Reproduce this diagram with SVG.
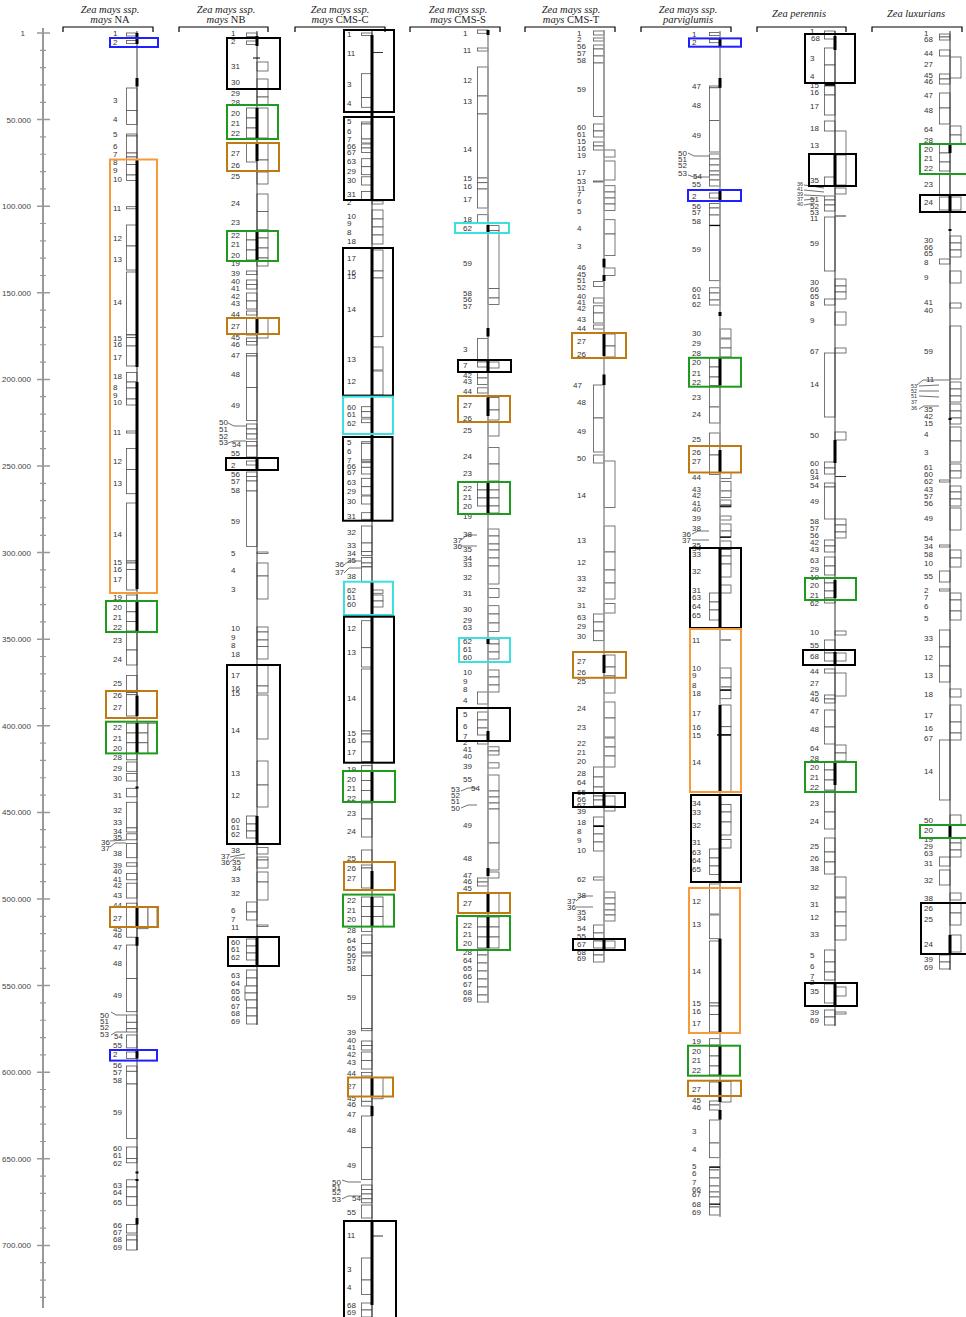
<svg xmlns="http://www.w3.org/2000/svg" width="966" height="1317" viewBox="0 0 966 1317">
<style>
text{font-family:"Liberation Sans",Arial,sans-serif;font-size:8px;fill:#333}
.ttl{font-family:"Liberation Serif","Times New Roman",serif;font-style:italic;font-size:10.5px;fill:#222;text-anchor:middle}
.ax{fill:#444;text-anchor:end}
.sm{font-size:5.5px}
.bx rect{fill:#fff;stroke:#555;stroke-width:0.8}
.tk rect{fill:#000}
.ld{fill:none;stroke:#333;stroke-width:0.7}
.hl rect{fill:none;stroke-width:2}
.bl{stroke:#1f1fff}.og{stroke:#f79a3a}.br{stroke:#c07a14}.gr{stroke:#1e9a1e}.cy{stroke:#3ce0e0}.bk{stroke:#000}
.ln{stroke:#333;stroke-width:1}
.lg{stroke:#999;stroke-width:1.6}
.brk{fill:none;stroke:#000;stroke-width:1.2}
</style>

<g id="axis">
<line x1="43" y1="28" x2="43" y2="1308" stroke="#999" stroke-width="2"/>
<path stroke="#999" stroke-width="1.5" d="M37 33h13M37 119.6h13M37 206.2h13M37 292.8h13M37 379.4h13M37 466h13M37 552.6h13M37 639.2h13M37 725.8h13M37 812.4h13M37 899h13M37 985.6h13M37 1072.2h13M37 1158.8h13M37 1245.4h13"/>
<path stroke="#999" stroke-width="1.2" d="M40 50.32h6M40 67.64h6M40 84.96h6M40 102.28h6M40 136.92h6M40 154.24h6M40 171.56h6M40 188.88h6M40 223.52h6M40 240.84h6M40 258.16h6M40 275.48h6M40 310.12h6M40 327.44h6M40 344.76h6M40 362.08h6M40 396.72h6M40 414.04h6M40 431.36h6M40 448.68h6M40 483.32h6M40 500.64h6M40 517.96h6M40 535.28h6M40 569.92h6M40 587.24h6M40 604.56h6M40 621.88h6M40 656.52h6M40 673.84h6M40 691.16h6M40 708.48h6M40 743.12h6M40 760.44h6M40 777.76h6M40 795.08h6M40 829.72h6M40 847.04h6M40 864.36h6M40 881.68h6M40 916.32h6M40 933.64h6M40 950.96h6M40 968.28h6M40 1002.92h6M40 1020.24h6M40 1037.56h6M40 1054.88h6M40 1089.52h6M40 1106.84h6M40 1124.16h6M40 1141.48h6M40 1176.12h6M40 1193.44h6M40 1210.76h6M40 1228.08h6M40 1262.72h6M40 1280.04h6M40 1297.36h6"/>
<text class="ax" x="25" y="36">1</text>
<text class="ax" x="31" y="122.6">50.000</text>
<text class="ax" x="31" y="209.2">100.000</text>
<text class="ax" x="31" y="295.8">150.000</text>
<text class="ax" x="31" y="382.4">200.000</text>
<text class="ax" x="31" y="469">250.000</text>
<text class="ax" x="31" y="555.6">300.000</text>
<text class="ax" x="31" y="642.2">350.000</text>
<text class="ax" x="31" y="728.8">400.000</text>
<text class="ax" x="31" y="815.4">450.000</text>
<text class="ax" x="31" y="902">500.000</text>
<text class="ax" x="31" y="988.6">550.000</text>
<text class="ax" x="31" y="1075.2">600.000</text>
<text class="ax" x="31" y="1161.8">650.000</text>
<text class="ax" x="31" y="1248.4">700.000</text>
</g>

<g id="titles">
<text class="ttl" x="110" y="13">Zea mays ssp.</text>
<text class="ttl" x="110" y="22.5">mays <tspan font-style="normal">NA</tspan></text>
<path class="brk" d="M63 32V27H153V32"/>
<text class="ttl" x="226" y="13">Zea mays ssp.</text>
<text class="ttl" x="226" y="22.5">mays <tspan font-style="normal">NB</tspan></text>
<path class="brk" d="M179 32V27H268V32"/>
<text class="ttl" x="340" y="13">Zea mays ssp.</text>
<text class="ttl" x="340" y="22.5">mays <tspan font-style="normal">CMS-C</tspan></text>
<path class="brk" d="M295 32V27H385V32"/>
<text class="ttl" x="458" y="13">Zea mays ssp.</text>
<text class="ttl" x="458" y="22.5">mays <tspan font-style="normal">CMS-S</tspan></text>
<path class="brk" d="M410 32V27H500V32"/>
<text class="ttl" x="571" y="13">Zea mays ssp.</text>
<text class="ttl" x="571" y="22.5">mays <tspan font-style="normal">CMS-T</tspan></text>
<path class="brk" d="M525 32V27H615V32"/>
<text class="ttl" x="688" y="13">Zea mays ssp.</text>
<text class="ttl" x="688" y="22.5">parviglumis</text>
<path class="brk" d="M641 32V27H731V32"/>
<text class="ttl" x="799" y="17">Zea perennis</text>
<path class="brk" d="M757 32V27H846V32"/>
<text class="ttl" x="916" y="17">Zea luxurians</text>
<path class="brk" d="M872 32V27H962V32"/>
</g>

<g id="col-NA" transform="translate(137,0)">
<g class="bx">
<rect x="-10.5" width="10.5" y="33" height="3"/><rect x="-10.5" width="10.5" y="40.5" height="3"/><rect x="-10.5" width="10.5" y="88" height="22.5"/><rect x="-10.5" width="10.5" y="110.5" height="14"/><rect x="-10.5" width="10.5" y="134" height="2"/><rect x="-10.5" width="10.5" y="136" height="17"/><rect x="-10.5" width="10.5" y="153" height="4"/><rect x="-10.5" width="10.5" y="157" height="7.5"/><rect x="-10.5" width="10.5" y="164.5" height="10.5"/><rect x="-10.5" width="10.5" y="175" height="5.5"/><rect x="-10.5" width="10.5" y="206.7" height="2.1"/><rect x="-10.5" width="10.5" y="225" height="21"/><rect x="-10.5" width="10.5" y="246" height="24"/><rect x="-10.5" width="10.5" y="272" height="62.6"/><rect x="-10.5" width="10.5" y="335" height="2.5"/><rect x="-10.5" width="10.5" y="337.5" height="8.5"/><rect x="-10.5" width="10.5" y="346" height="20"/><rect x="-10.5" width="10.5" y="372.5" height="9.5"/><rect x="-10.5" width="10.5" y="382" height="6"/><rect x="-10.5" width="10.5" y="388" height="11"/><rect x="-10.5" width="10.5" y="399" height="6"/><rect x="-10.5" width="10.5" y="431" height="2"/><rect x="-10.5" width="10.5" y="448.5" height="21.1"/><rect x="-10.5" width="10.5" y="469.6" height="24.1"/><rect x="-10.5" width="10.5" y="503" height="58"/><rect x="-10.5" width="10.5" y="561" height="2"/><rect x="-10.5" width="10.5" y="563" height="6.6"/><rect x="-10.5" width="10.5" y="569.6" height="20.4"/><rect x="-10.5" width="10.5" y="595" height="6"/><rect x="-10.5" width="10.5" y="601" height="10.8"/><rect x="-10.5" width="10.5" y="611.8" height="9.7"/><rect x="-10.5" width="10.5" y="621.5" height="9.5"/><rect x="-10.5" width="10.5" y="632" height="18"/><rect x="-10.5" width="10.5" y="650" height="15"/><rect x="-10.5" width="10.5" y="675.5" height="17.1"/><rect x="-10.5" width="10.5" y="692.6" height="2.1"/><rect x="-10.5" width="10.5" y="694.7" height="21.3"/><rect x="-10.5" width="10.5" y="723.2" height="9.8"/><rect x="-10.5" width="10.5" y="733" height="9.8"/><rect x="-10.5" width="10.5" y="742.8" height="10.6"/><rect x="-10.5" width="10.5" y="753.4" height="6.4"/><rect x="-10.5" width="10.5" y="762" height="9.3"/><rect x="-10.5" width="10.5" y="773.4" height="7.6"/><rect x="-10.5" width="10.5" y="788.3" height="8.5"/><rect x="-10.5" width="10.5" y="802.3" height="25.6"/><rect x="-10.5" width="10.5" y="827.9" height="4.1"/><rect x="-10.5" width="10.5" y="833.8" height="6"/><rect x="-10.5" width="10.5" y="843.6" height="14.1"/><rect x="-10.5" width="10.5" y="862.8" height="3.4"/><rect x="-10.5" width="10.5" y="873.4" height="6.4"/><rect x="-10.5" width="10.5" y="883.2" height="14.8"/><rect x="-10.5" width="10.5" y="903.2" height="4.2"/><rect x="-10.5" width="10.5" y="907.4" height="19.2"/><rect x="-10.5" width="10.5" y="926.6" height="10.6"/><rect x="-10.5" width="10.5" y="945" height="33.5"/><rect x="-10.5" width="10.5" y="978.5" height="33.2"/><rect x="-10.5" width="10.5" y="1015" height="7.3"/><rect x="-10.5" width="10.5" y="1022.3" height="6.4"/><rect x="-10.5" width="10.5" y="1028.7" height="3.3"/><rect x="-10.5" width="10.5" y="1035" height="12.9"/><rect x="-10.5" width="10.5" y="1052" height="6.5"/><rect x="-10.5" width="10.5" y="1066" height="5.3"/><rect x="-10.5" width="10.5" y="1071.3" height="12.7"/><rect x="-10.5" width="10.5" y="1084" height="54.5"/><rect x="-10.5" width="10.5" y="1147" height="11.5"/><rect x="-10.5" width="10.5" y="1158.5" height="4.3"/><rect x="-10.5" width="10.5" y="1179.8" height="7.2"/><rect x="-10.5" width="10.5" y="1187" height="9.8"/><rect x="-10.5" width="10.5" y="1196.8" height="8.5"/><rect x="-10.5" width="10.5" y="1224.5" height="8.5"/><rect x="-10.5" width="10.5" y="1235" height="5"/><rect x="-10.5" width="10.5" y="1240" height="10"/>
<rect x="0" width="11" y="723.2" height="9.8"/><rect x="0" width="11" y="733" height="9.8"/><rect x="0" width="11" y="742.8" height="10.6"/><rect x="11" width="9" y="723.2" height="30.2"/><rect x="0" width="11" y="907.4" height="21.3"/><rect x="11" width="9" y="907.4" height="19.2"/>
</g>
<line class="ln" x1="0" y1="31" x2="0" y2="1250"/>
<g class="tk">
<rect x="-1.5" width="3" y="33" height="11"/><rect x="-1.5" width="3" y="78" height="8.5"/><rect x="-1.5" width="3" y="159" height="208"/><rect x="-1.5" width="3" y="382" height="207"/><rect x="-1.5" width="3" y="601" height="30"/><rect x="-1.5" width="3" y="695.6" height="20.4"/><rect x="-1.5" width="3" y="723" height="30.4"/><rect x="-1.5" width="3" y="786.5" height="2"/><rect x="-1.5" width="3" y="907" height="19.6"/><rect x="-1.5" width="3" y="937" height="8.7"/><rect x="-1.5" width="3" y="1050" height="8.5"/><rect x="-1.5" width="3" y="1171.5" height="2"/><rect x="-1.5" width="3" y="1179" height="2"/><rect x="-1.5" width="3" y="1218" height="6.5"/>
</g>
<path class="ld" d="M-27 841L-11 840M-27 847L-22 843H-11M-26 1012L-21 1015H-11M-26 1035L-21 1032H-11"/>
<g>
<text x="-24" y="36">1</text><text x="-24" y="45">2</text><text x="-24" y="103">3</text><text x="-24" y="122">4</text><text x="-24" y="137">5</text><text x="-24" y="148.5">6</text><text x="-24" y="156.5">7</text><text x="-24" y="165">8</text><text x="-24" y="173">9</text><text x="-24" y="182">10</text><text x="-24" y="210.5">11</text><text x="-24" y="240.5">12</text><text x="-24" y="261.6">13</text><text x="-24" y="304.6">14</text><text x="-24" y="340.5">15</text><text x="-24" y="347">16</text><text x="-24" y="359.5">17</text><text x="-24" y="379">18</text><text x="-24" y="390">8</text><text x="-24" y="397.5">9</text><text x="-24" y="405">10</text><text x="-24" y="434.6">11</text><text x="-24" y="464">12</text><text x="-24" y="486">13</text><text x="-24" y="537">14</text><text x="-24" y="565.4">15</text><text x="-24" y="571.8">16</text><text x="-24" y="582.3">17</text><text x="-24" y="600">19</text><text x="-24" y="610.4">20</text><text x="-24" y="620.2">21</text><text x="-24" y="630">22</text><text x="-24" y="643">23</text><text x="-24" y="661.5">24</text><text x="-24" y="686.2">25</text><text x="-24" y="697.7">26</text><text x="-24" y="709.6">27</text><text x="-24" y="729.6">22</text><text x="-24" y="741">21</text><text x="-24" y="750.9">20</text><text x="-24" y="760.2">28</text><text x="-24" y="770.9">29</text><text x="-24" y="780.7">30</text><text x="-24" y="797.7">31</text><text x="-24" y="813">32</text><text x="-24" y="825.3">33</text><text x="-24" y="833.9">34</text><text x="-24" y="840.2">35</text><text x="-36" y="844.5">36</text><text x="-36" y="850.9">37</text><text x="-24" y="855.6">38</text><text x="-24" y="867.5">39</text><text x="-24" y="874.3">40</text><text x="-24" y="881.5">41</text><text x="-24" y="887.9">42</text><text x="-24" y="897.7">43</text><text x="-24" y="908.3">44</text><text x="-24" y="921">27</text><text x="-24" y="931.7">45</text><text x="-24" y="938.1">46</text><text x="-24" y="949.6">47</text><text x="-24" y="965.8">48</text><text x="-24" y="997.7">49</text><text x="-37" y="1017.7">50</text><text x="-37" y="1024">51</text><text x="-37" y="1030.4">52</text><text x="-37" y="1037.3">53</text><text x="-23" y="1039">54</text><text x="-24" y="1047.9">55</text><text x="-24" y="1057.3">2</text><text x="-24" y="1067.9">56</text><text x="-24" y="1075">57</text><text x="-24" y="1082.8">58</text><text x="-24" y="1114.7">59</text><text x="-24" y="1150.9">60</text><text x="-24" y="1157.7">61</text><text x="-24" y="1165.8">62</text><text x="-24" y="1187.5">63</text><text x="-24" y="1194.7">64</text><text x="-24" y="1205.3">65</text><text x="-24" y="1228.3">66</text><text x="-24" y="1235">67</text><text x="-24" y="1242.4">68</text><text x="-24" y="1249.6">69</text>
</g>
<g class="hl">
<rect class="bl" x="-27" y="38" width="48" height="9"/><rect class="og" x="-27" y="159.5" width="47" height="433.5"/><rect class="gr" x="-31" y="601" width="51" height="31"/><rect class="br" x="-31" y="691" width="51" height="27"/><rect class="gr" x="-31" y="721.7" width="51" height="31.7"/><rect class="br" x="-27" y="907" width="48" height="20"/><rect class="bl" x="-27" y="1050" width="47" height="10.6"/>
</g>
</g>

<g id="col-NB" transform="translate(257,0)">
<g class="bx">
<rect x="-10.5" width="10.5" y="33" height="3.5"/><rect x="-10.5" width="10.5" y="41" height="3.5"/><rect x="-10.5" width="10.5" y="108" height="10"/><rect x="-10.5" width="10.5" y="118" height="10"/><rect x="-10.5" width="10.5" y="128" height="10"/><rect x="-10.5" width="10.5" y="143" height="19"/><rect x="-10.5" width="10.5" y="231" height="9"/><rect x="-10.5" width="10.5" y="240" height="10"/><rect x="-10.5" width="10.5" y="250" height="10"/><rect x="-10.5" width="10.5" y="271" height="3.6"/><rect x="-10.5" width="10.5" y="280" height="4.5"/><rect x="-10.5" width="10.5" y="284.5" height="4.5"/><rect x="-10.5" width="10.5" y="293" height="8"/><rect x="-10.5" width="10.5" y="301" height="8"/><rect x="-10.5" width="10.5" y="311" height="4"/><rect x="-10.5" width="10.5" y="318" height="17"/><rect x="-10.5" width="10.5" y="338" height="3.5"/><rect x="-10.5" width="10.5" y="341.5" height="3.5"/><rect x="-10.5" width="10.5" y="353.5" height="2.5"/><rect x="-10.5" width="10.5" y="356" height="31.6"/><rect x="-10.5" width="10.5" y="387.6" height="32.9"/><rect x="-10.5" width="10.5" y="424" height="5"/><rect x="-10.5" width="10.5" y="429" height="5"/><rect x="-10.5" width="10.5" y="434" height="5"/><rect x="-10.5" width="10.5" y="441.5" height="4.5"/><rect x="-10.5" width="10.5" y="446" height="11"/><rect x="-10.5" width="10.5" y="461" height="4"/><rect x="-10.5" width="10.5" y="472" height="4.5"/><rect x="-10.5" width="10.5" y="476.5" height="4.5"/><rect x="-10.5" width="10.5" y="481" height="10"/><rect x="-10.5" width="10.5" y="491" height="55.6"/><rect x="-10.5" width="10.5" y="816" height="8"/><rect x="-10.5" width="10.5" y="824" height="7"/><rect x="-10.5" width="10.5" y="831" height="7"/><rect x="-10.5" width="10.5" y="902" height="10"/><rect x="-10.5" width="10.5" y="912" height="8"/><rect x="-10.5" width="10.5" y="939" height="7"/><rect x="-10.5" width="10.5" y="946" height="7"/><rect x="-10.5" width="10.5" y="953" height="7"/><rect x="-10.5" width="10.5" y="970" height="8"/><rect x="-10.5" width="10.5" y="978" height="8"/><rect x="-12" width="12" y="986" height="7"/><rect x="-12" width="12" y="993" height="7"/><rect x="-10.5" width="10.5" y="1000" height="8"/><rect x="-10.5" width="10.5" y="1008" height="8"/><rect x="-10.5" width="10.5" y="1016" height="8"/>
<rect x="0" width="11" y="62" height="9"/><rect x="0" width="11" y="79" height="9.5"/><rect x="0" width="11" y="88.5" height="8.5"/><rect x="0" width="11" y="97" height="8"/><rect x="0" width="11" y="108" height="30"/><rect x="0" width="11" y="143" height="17"/><rect x="0" width="11" y="160" height="12"/><rect x="0" width="11" y="172" height="12"/><rect x="0" width="11" y="194" height="17.5"/><rect x="0" width="11" y="211.5" height="18.5"/><rect x="0" width="11" y="230" height="8"/><rect x="0" width="11" y="238" height="10"/><rect x="0" width="11" y="248" height="10"/><rect x="0" width="11" y="258" height="8"/><rect x="0" width="11" y="318" height="20"/><rect x="0" width="11" y="552" height="1.5"/><rect x="0" width="11" y="563" height="13"/><rect x="0" width="11" y="576" height="23"/><rect x="0" width="11" y="627" height="5"/><rect x="0" width="11" y="632" height="8"/><rect x="0" width="11" y="640" height="6.5"/><rect x="0" width="11" y="646.5" height="12.5"/><rect x="0" width="11" y="665" height="21"/><rect x="0" width="11" y="686" height="7"/><rect x="0" width="11" y="695" height="44"/><rect x="0" width="11" y="761" height="24"/><rect x="0" width="11" y="785" height="22"/><rect x="0" width="11" y="847.5" height="6.5"/><rect x="0" width="11" y="857" height="3"/><rect x="0" width="11" y="860" height="8"/><rect x="0" width="11" y="872" height="10"/><rect x="0" width="11" y="882" height="18"/><rect x="0" width="11" y="925" height="1.5"/>
</g>
<line class="ln" x1="0" y1="31" x2="0" y2="1025"/>
<g class="tk">
<rect x="-1.5" width="3" y="36" height="10"/><rect x="-1.5" width="3" y="108" height="30"/><rect x="-1.5" width="3" y="143" height="18"/><rect x="-1.5" width="3" y="231" height="30"/><rect x="-1.5" width="3" y="318" height="17"/><rect x="-1.5" width="3" y="458" height="12"/><rect x="-1.5" width="3" y="816" height="28"/><rect x="-1.5" width="3" y="937" height="29"/><rect x="-4" width="7" y="57.5" height="1"/>
</g>
<path class="ld" d="M-29 423L-23 426H-11M-29 443L-23 441H-11M-27 857L-12 854M-27 862L-22 858H-12"/>
<g>
<text x="-26" y="35.8">1</text><text x="-26" y="44">2</text><text x="-26" y="69">31</text><text x="-26" y="85">30</text><text x="-26" y="96">29</text><text x="-26" y="105">28</text><text x="-26" y="116">20</text><text x="-26" y="126">21</text><text x="-26" y="136">22</text><text x="-26" y="156">27</text><text x="-26" y="168">26</text><text x="-26" y="179">25</text><text x="-26" y="206">24</text><text x="-26" y="225">23</text><text x="-26" y="238">22</text><text x="-26" y="247">21</text><text x="-26" y="258">20</text><text x="-26" y="266">19</text><text x="-26" y="276">39</text><text x="-26" y="284">40</text><text x="-26" y="291">41</text><text x="-26" y="299">42</text><text x="-26" y="306">43</text><text x="-26" y="317">44</text><text x="-26" y="329">27</text><text x="-26" y="340">45</text><text x="-26" y="347">46</text><text x="-26" y="358">47</text><text x="-26" y="377">48</text><text x="-26" y="408">49</text><text x="-38" y="425">50</text><text x="-38" y="432">51</text><text x="-38" y="439">52</text><text x="-38" y="445">53</text><text x="-25" y="447">54</text><text x="-26" y="456">55</text><text x="-26" y="468">2</text><text x="-26" y="477">56</text><text x="-26" y="484">57</text><text x="-26" y="493">58</text><text x="-26" y="524">59</text><text x="-26" y="556">5</text><text x="-26" y="573">4</text><text x="-26" y="592">3</text><text x="-26" y="631">10</text><text x="-26" y="640">9</text><text x="-26" y="648">8</text><text x="-26" y="657">18</text><text x="-26" y="678">17</text><text x="-26" y="691">16</text><text x="-26" y="696">15</text><text x="-26" y="733">14</text><text x="-26" y="776">13</text><text x="-26" y="798">12</text><text x="-26" y="823">60</text><text x="-26" y="830">61</text><text x="-26" y="837">62</text><text x="-26" y="853">38</text><text x="-36" y="859">37</text><text x="-36" y="865">36</text><text x="-25" y="865">35</text><text x="-25" y="871">34</text><text x="-26" y="882">33</text><text x="-26" y="896">32</text><text x="-26" y="913">6</text><text x="-26" y="922">7</text><text x="-26" y="930">11</text><text x="-26" y="945">60</text><text x="-26" y="952">61</text><text x="-26" y="960">62</text><text x="-26" y="978">63</text><text x="-26" y="986">64</text><text x="-26" y="994">65</text><text x="-26" y="1001">66</text><text x="-26" y="1009">67</text><text x="-26" y="1016">68</text><text x="-26" y="1024">69</text>
</g>
<g class="hl">
<rect class="bk" x="-30" y="38" width="53" height="51"/><rect class="gr" x="-30" y="105" width="51" height="34"/><rect class="br" x="-30" y="143" width="52" height="28"/><rect class="gr" x="-30" y="231" width="51" height="30"/><rect class="br" x="-30" y="318" width="52" height="16"/><rect class="bk" x="-31" y="458" width="52" height="12"/><rect class="bk" x="-30" y="665" width="53" height="179"/><rect class="bk" x="-29" y="937" width="51" height="29"/>
</g>
</g>

<g id="col-CMS-C" transform="translate(372,0)">
<g class="bx">
<rect x="-10.5" width="10.5" y="33" height="2.5"/><rect x="-10.5" width="10.5" y="73.7" height="24"/><rect x="-10.5" width="10.5" y="97.6" height="9.7"/><rect x="-10.5" width="10.5" y="122" height="2"/><rect x="-10.5" width="10.5" y="124" height="15"/><rect x="-10.5" width="10.5" y="139" height="4"/><rect x="-10.5" width="10.5" y="144" height="4"/><rect x="-10.5" width="10.5" y="148" height="4.5"/><rect x="-10.5" width="10.5" y="158.7" height="8"/><rect x="-10.5" width="10.5" y="166.7" height="8"/><rect x="-10.5" width="10.5" y="176.8" height="8.2"/><rect x="-10.5" width="10.5" y="191.5" height="8.5"/><rect x="-10.5" width="10.5" y="406.7" height="5"/><rect x="-10.5" width="10.5" y="411.7" height="5.6"/><rect x="-10.5" width="10.5" y="419" height="3.7"/><rect x="-10.5" width="10.5" y="441.7" height="1.6"/><rect x="-10.5" width="10.5" y="443.3" height="16.7"/><rect x="-10.5" width="10.5" y="460" height="1.7"/><rect x="-10.5" width="10.5" y="462.7" height="4.6"/><rect x="-10.5" width="10.5" y="467.3" height="6.7"/><rect x="-10.5" width="10.5" y="478.3" height="8.4"/><rect x="-10.5" width="10.5" y="486.7" height="8.3"/><rect x="-10.5" width="10.5" y="496" height="8"/><rect x="-10.5" width="10.5" y="512.7" height="6.6"/><rect x="-10.5" width="10.5" y="526" height="17"/><rect x="-10.5" width="10.5" y="543" height="8.5"/><rect x="-10.5" width="10.5" y="551.5" height="4"/><rect x="-10.5" width="10.5" y="557.5" height="5.5"/><rect x="-10.5" width="10.5" y="563" height="3.5"/><rect x="-10.5" width="10.5" y="567" height="15"/><rect x="-10.5" width="10.5" y="620.7" height="27"/><rect x="-10.5" width="10.5" y="647.7" height="19.3"/><rect x="-10.5" width="10.5" y="669" height="62"/><rect x="-10.5" width="10.5" y="731" height="3"/><rect x="-10.5" width="10.5" y="734" height="8"/><rect x="-10.5" width="10.5" y="742" height="19.5"/><rect x="-10.5" width="10.5" y="765.7" height="5.3"/><rect x="-10.5" width="10.5" y="771" height="9.5"/><rect x="-10.5" width="10.5" y="780.5" height="10"/><rect x="-10.5" width="10.5" y="790.5" height="10.5"/><rect x="-10.5" width="10.5" y="803" height="16"/><rect x="-10.5" width="10.5" y="819" height="18"/><rect x="-10.5" width="10.5" y="850" height="12.7"/><rect x="-10.5" width="10.5" y="865" height="3"/><rect x="-10.5" width="10.5" y="868" height="20"/><rect x="-10.5" width="10.5" y="897" height="9.5"/><rect x="-10.5" width="10.5" y="906.5" height="10"/><rect x="-10.5" width="10.5" y="916.5" height="10"/><rect x="-10.5" width="10.5" y="926.5" height="5.1"/><rect x="-10.5" width="10.5" y="935" height="8.5"/><rect x="-10.5" width="10.5" y="943.5" height="8.5"/><rect x="-10.5" width="10.5" y="953" height="3"/><rect x="-10.5" width="10.5" y="956" height="19.4"/><rect x="-10.5" width="10.5" y="975.4" height="53.2"/><rect x="-10.5" width="10.5" y="1028.6" height="2.1"/><rect x="-10.5" width="10.5" y="1041" height="4.5"/><rect x="-10.5" width="10.5" y="1045.5" height="4.5"/><rect x="-10.5" width="10.5" y="1052" height="8.5"/><rect x="-10.5" width="10.5" y="1060.5" height="8.5"/><rect x="-10.5" width="10.5" y="1072.4" height="3.6"/><rect x="-10.5" width="10.5" y="1077.5" height="19.1"/><rect x="-10.5" width="10.5" y="1096.6" height="4.7"/><rect x="-10.5" width="10.5" y="1101.3" height="4.7"/><rect x="-10.5" width="10.5" y="1116" height="31.7"/><rect x="-10.5" width="10.5" y="1147.7" height="31.9"/><rect x="-10.5" width="10.5" y="1185" height="4.5"/><rect x="-10.5" width="10.5" y="1189.5" height="4.5"/><rect x="-10.5" width="10.5" y="1194" height="4.8"/><rect x="-10.5" width="10.5" y="1198.8" height="4"/><rect x="-10.5" width="10.5" y="1205" height="13"/><rect x="-10.5" width="10.5" y="1258" height="22"/><rect x="-10.5" width="10.5" y="1280" height="14.5"/><rect x="-10.5" width="10.5" y="1303" height="7"/><rect x="-10.5" width="10.5" y="1310" height="7"/>
<rect x="0" width="11" y="201" height="3"/><rect x="0" width="11" y="210" height="9"/><rect x="0" width="11" y="219" height="8"/><rect x="0" width="11" y="227" height="8"/><rect x="0" width="11" y="235" height="9"/><rect x="0" width="11" y="250" height="21"/><rect x="0" width="11" y="271" height="7"/><rect x="0" width="11" y="278" height="58.7"/><rect x="0" width="11" y="347" height="23"/><rect x="0" width="11" y="371" height="24"/><rect x="0" width="11" y="590" height="3.3"/><rect x="0" width="11" y="595" height="6"/><rect x="0" width="11" y="601" height="6"/><rect x="0" width="11" y="897" height="9.5"/><rect x="0" width="11" y="906.5" height="10"/><rect x="0" width="11" y="916.5" height="10"/><rect x="0" width="11" y="1077.5" height="21.3"/>
</g>
<path class="ln" d="M0 52.5H11M0 1236H11"/>
<line class="ln" x1="0" y1="30" x2="0" y2="1317"/>
<g class="tk">
<rect x="-1.5" width="3" y="35" height="165"/><rect x="-1.5" width="3" y="248" height="273"/><rect x="-1.5" width="3" y="582" height="180"/><rect x="-1.5" width="3" y="771" height="30"/><rect x="-1.5" width="3" y="871" height="18"/><rect x="-1.5" width="3" y="897" height="29.5"/><rect x="-1.5" width="3" y="1077.5" height="19"/><rect x="-1.5" width="3" y="1106" height="10"/><rect x="-1.5" width="3" y="1221" height="84"/>
</g>
<path class="ld" d="M-28 565L-23 561H-11M-28 573L-23 568H-11M-30 1180L-24 1182H-11M-30 1199L-24 1196H-11"/>
<g>
<text x="-25" y="36.7">1</text><text x="-25" y="55.6">11</text><text x="-25" y="87">3</text><text x="-25" y="106">4</text><text x="-25" y="124">5</text><text x="-25" y="133.5">6</text><text x="-25" y="142">7</text><text x="-25" y="149">66</text><text x="-25" y="155.4">67</text><text x="-25" y="164.2">63</text><text x="-25" y="173.5">29</text><text x="-25" y="183">30</text><text x="-25" y="197.4">31</text><text x="-25" y="205">2</text><text x="-25" y="219">10</text><text x="-25" y="226">9</text><text x="-25" y="234.5">8</text><text x="-25" y="243.7">18</text><text x="-25" y="260.6">17</text><text x="-25" y="274.5">16</text><text x="-25" y="278.7">15</text><text x="-25" y="312">14</text><text x="-25" y="361.6">13</text><text x="-25" y="384">12</text><text x="-25" y="409.7">60</text><text x="-25" y="417">61</text><text x="-25" y="425.7">62</text><text x="-25" y="445">5</text><text x="-25" y="454">6</text><text x="-25" y="463">7</text><text x="-25" y="468.7">66</text><text x="-25" y="474.7">67</text><text x="-25" y="485">63</text><text x="-25" y="493.7">29</text><text x="-25" y="503.7">30</text><text x="-25" y="518.7">31</text><text x="-25" y="535.3">32</text><text x="-25" y="548">33</text><text x="-25" y="556.3">34</text><text x="-25" y="563">35</text><text x="-37" y="567.3">36</text><text x="-37" y="575.3">37</text><text x="-25" y="579">38</text><text x="-25" y="593">62</text><text x="-25" y="599.7">61</text><text x="-25" y="607">60</text><text x="-25" y="631.3">12</text><text x="-25" y="655">13</text><text x="-25" y="701">14</text><text x="-25" y="736">15</text><text x="-25" y="743">16</text><text x="-25" y="755">17</text><text x="-25" y="772">19</text><text x="-25" y="782">20</text><text x="-25" y="791">21</text><text x="-25" y="801">22</text><text x="-25" y="816">23</text><text x="-25" y="834">24</text><text x="-25" y="860.6">25</text><text x="-25" y="871">26</text><text x="-25" y="881.4">27</text><text x="-25" y="903">22</text><text x="-25" y="912.5">21</text><text x="-25" y="922">20</text><text x="-25" y="933">28</text><text x="-25" y="943">64</text><text x="-25" y="950.8">65</text><text x="-25" y="958.4">56</text><text x="-25" y="963.6">57</text><text x="-25" y="971">58</text><text x="-25" y="999.7">59</text><text x="-25" y="1035">39</text><text x="-25" y="1043">40</text><text x="-25" y="1050">41</text><text x="-25" y="1057">42</text><text x="-25" y="1065">43</text><text x="-25" y="1076">44</text><text x="-25" y="1089">27</text><text x="-25" y="1100.5">45</text><text x="-25" y="1107">46</text><text x="-25" y="1116.7">47</text><text x="-25" y="1133">48</text><text x="-25" y="1167.7">49</text><text x="-40" y="1184.8">50</text><text x="-40" y="1190">51</text><text x="-40" y="1195">52</text><text x="-40" y="1201.8">53</text><text x="-20" y="1201">54</text><text x="-25" y="1214.5">55</text><text x="-25" y="1238">11</text><text x="-25" y="1272">3</text><text x="-25" y="1290">4</text><text x="-25" y="1308">68</text><text x="-25" y="1315">69</text>
</g>
<g class="hl">
<rect class="bk" x="-28" y="30" width="50" height="82"/><rect class="bk" x="-28" y="117" width="50" height="83"/><rect class="bk" x="-29" y="248" width="50" height="147.6"/><rect class="cy" x="-29" y="396.7" width="50" height="37.3"/><rect class="bk" x="-29" y="437" width="49.5" height="83.7"/><rect class="cy" x="-28" y="581.7" width="49" height="33.3"/><rect class="bk" x="-28" y="616.7" width="50" height="146"/><rect class="gr" x="-29" y="771" width="52" height="31"/><rect class="br" x="-28" y="862" width="51" height="28"/><rect class="gr" x="-29" y="894.6" width="51" height="32"/><rect class="br" x="-24" y="1077.5" width="45" height="19"/><rect class="bk" x="-28" y="1221" width="52" height="100"/>
</g>
</g>

<g id="col-CMS-S" transform="translate(488,0)">
<g class="bx">
<rect x="-10.5" width="10.5" y="30" height="3.3"/><rect x="-10.5" width="10.5" y="48" height="3"/><rect x="-10.5" width="10.5" y="67" height="29"/><rect x="-10.5" width="10.5" y="96" height="18"/><rect x="-10.5" width="10.5" y="114" height="64"/><rect x="-10.5" width="10.5" y="178" height="4.7"/><rect x="-10.5" width="10.5" y="182.7" height="6.3"/><rect x="-10.5" width="10.5" y="189" height="19"/><rect x="-10.5" width="10.5" y="214.7" height="8.3"/><rect x="-10.5" width="10.5" y="338.4" height="23.6"/><rect x="-10.5" width="10.5" y="362" height="5"/><rect x="-10.5" width="10.5" y="372" height="6"/><rect x="-10.5" width="10.5" y="378" height="6.6"/><rect x="-10.5" width="10.5" y="387.8" height="5.2"/><rect x="-10.5" width="10.5" y="482" height="8"/><rect x="-10.5" width="10.5" y="490" height="8"/><rect x="-10.5" width="10.5" y="498" height="8"/><rect x="-10.5" width="10.5" y="692" height="12"/><rect x="-10.5" width="10.5" y="712" height="8"/><rect x="-10.5" width="10.5" y="720" height="8"/><rect x="-10.5" width="10.5" y="728" height="7"/><rect x="-10.5" width="10.5" y="741" height="3"/><rect x="-10.5" width="10.5" y="878" height="4"/><rect x="-10.5" width="10.5" y="882" height="4"/><rect x="-10.5" width="10.5" y="917" height="10"/><rect x="-10.5" width="10.5" y="927" height="10"/><rect x="-10.5" width="10.5" y="937" height="11"/><rect x="-10.5" width="10.5" y="949" height="6"/><rect x="-10.5" width="10.5" y="955" height="8"/><rect x="-10.5" width="10.5" y="963" height="8"/><rect x="-10.5" width="10.5" y="971" height="8"/><rect x="-10.5" width="10.5" y="979" height="8"/><rect x="-10.5" width="10.5" y="987" height="8"/><rect x="-10.5" width="10.5" y="995" height="7"/>
<rect x="0" width="11" y="225.6" height="5.1"/><rect x="0" width="11" y="230.7" height="57.8"/><rect x="0" width="11" y="288.5" height="9.5"/><rect x="0" width="11" y="298" height="6.5"/><rect x="0" width="11" y="362" height="6"/><rect x="0" width="11" y="397.4" height="12.6"/><rect x="0" width="11" y="410" height="10"/><rect x="0" width="11" y="421.8" height="14.2"/><rect x="0" width="11" y="447.5" height="16.5"/><rect x="0" width="11" y="464" height="17"/><rect x="0" width="11" y="482" height="8"/><rect x="0" width="11" y="490" height="8"/><rect x="0" width="11" y="498" height="8"/><rect x="0" width="11" y="506" height="7"/><rect x="0" width="11" y="529" height="7"/><rect x="0" width="11" y="536" height="8"/><rect x="0" width="11" y="544" height="6"/><rect x="0" width="11" y="550" height="8"/><rect x="0" width="11" y="558" height="8"/><rect x="0" width="11" y="566" height="18"/><rect x="0" width="11" y="588.4" height="9"/><rect x="0" width="11" y="605.7" height="8.3"/><rect x="0" width="11" y="614" height="9"/><rect x="0" width="11" y="623" height="8.4"/><rect x="0" width="11" y="639" height="5"/><rect x="0" width="11" y="644" height="8"/><rect x="0" width="11" y="652" height="7"/><rect x="0" width="11" y="670" height="7"/><rect x="0" width="11" y="677" height="8"/><rect x="0" width="11" y="685" height="7"/><rect x="0" width="11" y="746.8" height="4.2"/><rect x="0" width="11" y="751" height="4"/><rect x="0" width="11" y="762.8" height="5.2"/><rect x="0" width="11" y="775" height="16"/><rect x="0" width="11" y="791" height="6"/><rect x="0" width="11" y="797" height="6"/><rect x="0" width="11" y="803" height="6"/><rect x="0" width="11" y="809" height="34"/><rect x="0" width="11" y="843" height="27"/><rect x="0" width="11" y="872" height="6"/><rect x="0" width="11" y="893" height="20"/><rect x="0" width="11" y="917" height="10"/><rect x="0" width="11" y="927" height="10"/><rect x="0" width="11" y="937" height="11"/>
</g>
<line class="lg" x1="0" y1="30" x2="0" y2="1003"/>
<g class="tk">
<rect x="-1.5" width="3" y="30" height="5"/><rect x="-1.5" width="3" y="225" height="8"/><rect x="-1.5" width="3" y="328" height="8.5"/><rect x="-1.5" width="3" y="361" height="11"/><rect x="-1.5" width="3" y="397.4" height="18.6"/><rect x="-1.5" width="3" y="482" height="31"/><rect x="-1.5" width="3" y="639" height="5"/><rect x="-1.5" width="3" y="731" height="9"/><rect x="-1.5" width="3" y="868" height="8"/><rect x="-1.5" width="3" y="893" height="19"/><rect x="-1.5" width="3" y="917" height="31"/>
</g>
<path class="ld" d="M-27 540L-21 535H-11M-27 546H-11M-27 791L-20 788H-11M-27 808L-20 805H-11"/>
<g>
<text x="-25" y="36.3">1</text><text x="-25" y="53">11</text><text x="-25" y="83">12</text><text x="-25" y="104">13</text><text x="-25" y="151.7">14</text><text x="-25" y="181">15</text><text x="-25" y="189">16</text><text x="-25" y="201.7">17</text><text x="-25" y="222">18</text><text x="-25" y="230.5">62</text><text x="-25" y="265.8">59</text><text x="-25" y="296">58</text><text x="-25" y="302">56</text><text x="-25" y="308.8">57</text><text x="-25" y="352">3</text><text x="-25" y="368.4">7</text><text x="-25" y="378">42</text><text x="-25" y="384.4">43</text><text x="-25" y="394">44</text><text x="-25" y="408">27</text><text x="-25" y="421">26</text><text x="-25" y="432.5">25</text><text x="-25" y="459.4">24</text><text x="-25" y="476">23</text><text x="-25" y="491.4">22</text><text x="-25" y="499.8">21</text><text x="-25" y="509.4">20</text><text x="-25" y="519">19</text><text x="-25" y="537">38</text><text x="-35" y="542.7">37</text><text x="-35" y="549">36</text><text x="-25" y="552">35</text><text x="-25" y="560.7">34</text><text x="-25" y="567">33</text><text x="-25" y="580">32</text><text x="-25" y="596">31</text><text x="-25" y="612">30</text><text x="-25" y="623">29</text><text x="-25" y="630">63</text><text x="-25" y="644">62</text><text x="-25" y="652.3">61</text><text x="-25" y="660">60</text><text x="-25" y="674.8">10</text><text x="-25" y="683.7">9</text><text x="-25" y="692">8</text><text x="-25" y="703">4</text><text x="-25" y="716.5">5</text><text x="-25" y="728.6">6</text><text x="-25" y="739">7</text><text x="-25" y="745.3">2</text><text x="-25" y="751.7">41</text><text x="-25" y="759.4">40</text><text x="-25" y="769">39</text><text x="-25" y="782">55</text><text x="-17" y="791">54</text><text x="-37" y="792">53</text><text x="-37" y="798">52</text><text x="-37" y="804">51</text><text x="-37" y="811">50</text><text x="-25" y="828">49</text><text x="-25" y="861">48</text><text x="-25" y="878">47</text><text x="-25" y="884">46</text><text x="-25" y="891">45</text><text x="-25" y="906">27</text><text x="-25" y="928">22</text><text x="-25" y="937">21</text><text x="-25" y="946">20</text><text x="-25" y="955">28</text><text x="-25" y="963">64</text><text x="-25" y="971">65</text><text x="-25" y="979">66</text><text x="-25" y="987">67</text><text x="-25" y="995">68</text><text x="-25" y="1002">69</text>
</g>
<g class="hl">
<rect class="cy" x="-33" y="223" width="54" height="10"/><rect class="bk" x="-30" y="360" width="53" height="12"/><rect class="br" x="-30" y="396" width="52" height="26"/><rect class="gr" x="-30" y="482" width="52" height="32"/><rect class="cy" x="-29" y="638" width="51" height="24"/><rect class="bk" x="-31" y="708" width="53" height="33"/><rect class="br" x="-30" y="893" width="52" height="20"/><rect class="gr" x="-31" y="916" width="53" height="34"/>
</g>
</g>

<g id="col-CMS-T" transform="translate(604,0)">
<g class="bx">
<rect x="-10.5" width="10.5" y="31" height="4"/><rect x="-10.5" width="10.5" y="38" height="3"/><rect x="-10.5" width="10.5" y="45" height="4"/><rect x="-10.5" width="10.5" y="49" height="7"/><rect x="-10.5" width="10.5" y="56" height="7"/><rect x="-10.5" width="10.5" y="63" height="53.4"/><rect x="-10.5" width="10.5" y="124" height="7"/><rect x="-10.5" width="10.5" y="131" height="6"/><rect x="-10.5" width="10.5" y="142" height="4"/><rect x="-10.5" width="10.5" y="146" height="4"/><rect x="-10.5" width="10.5" y="181" height="1"/><rect x="-10.5" width="10.5" y="281.6" height="5"/><rect x="-10.5" width="10.5" y="298" height="5"/><rect x="-10.5" width="10.5" y="305.8" height="7.2"/><rect x="-10.5" width="10.5" y="313" height="10"/><rect x="-10.5" width="10.5" y="325" height="4"/><rect x="-10.5" width="10.5" y="385" height="33"/><rect x="-10.5" width="10.5" y="418" height="34"/><rect x="-10.5" width="10.5" y="455" height="8"/><rect x="-10.5" width="10.5" y="614" height="8"/><rect x="-10.5" width="10.5" y="622" height="9"/><rect x="-10.5" width="10.5" y="631" height="9.7"/><rect x="-10.5" width="10.5" y="767" height="10"/><rect x="-10.5" width="10.5" y="777" height="10"/><rect x="-10.5" width="10.5" y="787" height="9"/><rect x="-10.5" width="10.5" y="796" height="4"/><rect x="-10.5" width="10.5" y="800" height="6"/><rect x="-10.5" width="10.5" y="817" height="9"/><rect x="-10.5" width="10.5" y="826" height="8"/><rect x="-10.5" width="10.5" y="834" height="8"/><rect x="-10.5" width="10.5" y="842" height="9"/><rect x="-10.5" width="10.5" y="877" height="3"/><rect x="-10.5" width="10.5" y="925" height="8"/><rect x="-10.5" width="10.5" y="933" height="7"/><rect x="-10.5" width="10.5" y="941" height="7"/><rect x="-10.5" width="10.5" y="950" height="5"/><rect x="-10.5" width="10.5" y="955" height="7"/>
<rect x="0" width="11" y="150" height="7"/><rect x="0" width="11" y="161" height="19"/><rect x="0" width="11" y="185.7" height="6.3"/><rect x="0" width="11" y="192" height="6"/><rect x="0" width="11" y="198" height="6"/><rect x="0" width="11" y="204" height="6.5"/><rect x="0" width="11" y="219.7" height="14.3"/><rect x="0" width="11" y="234" height="21.6"/><rect x="0" width="11" y="268" height="7.5"/><rect x="0" width="11" y="334" height="12"/><rect x="0" width="11" y="346" height="11"/><rect x="0" width="11" y="461" height="46.6"/><rect x="0" width="11" y="526" height="26"/><rect x="0" width="11" y="552" height="18"/><rect x="0" width="11" y="570" height="13"/><rect x="0" width="11" y="583" height="16"/><rect x="0" width="11" y="603.5" height="9.5"/><rect x="0" width="11" y="655" height="12"/><rect x="0" width="11" y="667" height="9"/><rect x="0" width="11" y="676" height="17"/><rect x="0" width="11" y="702" height="16"/><rect x="0" width="11" y="718" height="19"/><rect x="0" width="11" y="738" height="9"/><rect x="0" width="11" y="747" height="9"/><rect x="0" width="11" y="756" height="11"/><rect x="0" width="11" y="796" height="10"/><rect x="0" width="11" y="807" height="4"/><rect x="0" width="11" y="892" height="6"/><rect x="0" width="11" y="898" height="6"/><rect x="0" width="11" y="904" height="6"/><rect x="0" width="11" y="910" height="5"/><rect x="0" width="11" y="915" height="6"/><rect x="0" width="11" y="941" height="7"/>
</g>
<line class="lg" x1="0" y1="30" x2="0" y2="962"/>
<g class="tk">
<rect x="-1.5" width="3" y="258.7" height="8.7"/><rect x="-1.5" width="3" y="275" height="6"/><rect x="-1.5" width="3" y="334" height="22"/><rect x="-1.5" width="3" y="374.5" height="10.5"/><rect x="-1.5" width="3" y="655" height="18"/><rect x="-1.5" width="3" y="794" height="13"/><rect x="-10.5" width="10.5" y="825.5" height="1.5"/><rect x="-1.5" width="3" y="939" height="11"/>
</g>
<path class="ld" d="M-28 901L-22 896H-11M-28 907H-11"/>
<g>
<text x="-27" y="36">1</text><text x="-27" y="42">2</text><text x="-27" y="49">56</text><text x="-27" y="56">57</text><text x="-27" y="63">58</text><text x="-27" y="91.5">59</text><text x="-27" y="130">60</text><text x="-27" y="136.5">61</text><text x="-27" y="143.5">15</text><text x="-27" y="150.5">16</text><text x="-27" y="157.8">19</text><text x="-27" y="174.5">17</text><text x="-27" y="184.4">53</text><text x="-27" y="190.6">11</text><text x="-27" y="196.7">7</text><text x="-27" y="204">6</text><text x="-27" y="213.5">5</text><text x="-27" y="230.8">4</text><text x="-27" y="248.7">3</text><text x="-27" y="270.4">46</text><text x="-27" y="276.6">45</text><text x="-27" y="282.8">51</text><text x="-27" y="289.6">52</text><text x="-27" y="299">40</text><text x="-27" y="304.5">41</text><text x="-27" y="311">42</text><text x="-27" y="321.8">43</text><text x="-27" y="331">44</text><text x="-27" y="343.5">27</text><text x="-27" y="357">26</text><text x="-31" y="388">47</text><text x="-27" y="405.4">48</text><text x="-27" y="434.4">49</text><text x="-27" y="461">50</text><text x="-27" y="498">14</text><text x="-27" y="542.8">13</text><text x="-27" y="565">12</text><text x="-27" y="580.5">33</text><text x="-27" y="592">32</text><text x="-27" y="608.4">31</text><text x="-27" y="620">63</text><text x="-27" y="629.4">29</text><text x="-27" y="639.4">30</text><text x="-27" y="664">27</text><text x="-27" y="674.6">26</text><text x="-27" y="684">25</text><text x="-27" y="710.5">24</text><text x="-27" y="730.3">23</text><text x="-27" y="745.8">22</text><text x="-27" y="755">21</text><text x="-27" y="764.4">20</text><text x="-27" y="775.5">28</text><text x="-27" y="784.8">64</text><text x="-27" y="795.3">65</text><text x="-27" y="801.5">66</text><text x="-27" y="807.7">67</text><text x="-27" y="814">39</text><text x="-27" y="825">18</text><text x="-27" y="834">8</text><text x="-27" y="843">9</text><text x="-27" y="853">10</text><text x="-27" y="882">62</text><text x="-27" y="898">38</text><text x="-37" y="904">37</text><text x="-37" y="910">36</text><text x="-27" y="915">35</text><text x="-27" y="921">34</text><text x="-27" y="931">54</text><text x="-27" y="939">55</text><text x="-27" y="947">67</text><text x="-27" y="955">68</text><text x="-27" y="961">69</text>
</g>
<g class="hl">
<rect class="br" x="-32" y="333" width="54" height="25"/><rect class="br" x="-31" y="652" width="53" height="25.8"/><rect class="bk" x="-31" y="793" width="52" height="14"/><rect class="bk" x="-31" y="939" width="52" height="11"/>
</g>
</g>

<g id="col-parviglumis" transform="translate(720,0)">
<g class="bx">
<rect x="-10.5" width="10.5" y="32.4" height="3.2"/><rect x="-10.5" width="10.5" y="39.5" height="3.2"/><rect x="-10.5" width="10.5" y="86" height="1.8"/><rect x="-10.5" width="10.5" y="87.8" height="32.8"/><rect x="-10.5" width="10.5" y="120.6" height="31.4"/><rect x="-10.5" width="10.5" y="154" height="5"/><rect x="-10.5" width="10.5" y="159" height="6"/><rect x="-10.5" width="10.5" y="165" height="6"/><rect x="-10.5" width="10.5" y="171" height="4"/><rect x="-10.5" width="10.5" y="175" height="5"/><rect x="-10.5" width="10.5" y="180" height="6"/><rect x="-10.5" width="10.5" y="193" height="5"/><rect x="-10.5" width="10.5" y="203.6" height="4.4"/><rect x="-10.5" width="10.5" y="208" height="7"/><rect x="-10.5" width="10.5" y="215" height="10.4"/><rect x="-10.5" width="10.5" y="225.4" height="55.3"/><rect x="-10.5" width="10.5" y="287.8" height="5.2"/><rect x="-10.5" width="10.5" y="293" height="7"/><rect x="-10.5" width="10.5" y="300" height="5"/><rect x="-10.5" width="10.5" y="357.8" height="9.2"/><rect x="-10.5" width="10.5" y="367" height="10"/><rect x="-10.5" width="10.5" y="377" height="8.5"/><rect x="-10.5" width="10.5" y="386.7" height="20.3"/><rect x="-10.5" width="10.5" y="407" height="16"/><rect x="-10.5" width="10.5" y="433" height="13"/><rect x="-10.5" width="10.5" y="446" height="9"/><rect x="-10.5" width="10.5" y="455" height="19.5"/><rect x="-10.5" width="10.5" y="593" height="9"/><rect x="-10.5" width="10.5" y="602" height="8"/><rect x="-10.5" width="10.5" y="610" height="10"/><rect x="-10.5" width="10.5" y="849" height="9"/><rect x="-10.5" width="10.5" y="858" height="8"/><rect x="-10.5" width="10.5" y="866" height="8.5"/><rect x="-10.5" width="10.5" y="884" height="30"/><rect x="-10.5" width="10.5" y="915" height="23.7"/><rect x="-10.5" width="10.5" y="941" height="62"/><rect x="-10.5" width="10.5" y="1003" height="3"/><rect x="-10.5" width="10.5" y="1006" height="8.6"/><rect x="-10.5" width="10.5" y="1014.6" height="17.4"/><rect x="-10.5" width="10.5" y="1038.7" height="6.3"/><rect x="-10.5" width="10.5" y="1046.5" height="9.5"/><rect x="-10.5" width="10.5" y="1056" height="10"/><rect x="-10.5" width="10.5" y="1066" height="9"/><rect x="-10.5" width="10.5" y="1082" height="14"/><rect x="-10.5" width="10.5" y="1101" height="4"/><rect x="-10.5" width="10.5" y="1105" height="5"/><rect x="-10.5" width="10.5" y="1120" height="23"/><rect x="-10.5" width="10.5" y="1143" height="14.7"/><rect x="-10.5" width="10.5" y="1167" height="3"/><rect x="-10.5" width="10.5" y="1170" height="8"/><rect x="-10.5" width="10.5" y="1178" height="8"/><rect x="-10.5" width="10.5" y="1186" height="6"/><rect x="-10.5" width="10.5" y="1192" height="5"/><rect x="-10.5" width="10.5" y="1197" height="10"/><rect x="-10.5" width="10.5" y="1207" height="8"/>
<rect x="0" width="11" y="329" height="9"/><rect x="0" width="11" y="339" height="9"/><rect x="0" width="11" y="348" height="9"/><rect x="0" width="11" y="472.5" height="5.9"/><rect x="0" width="11" y="481.6" height="9.4"/><rect x="0" width="11" y="491" height="6.4"/><rect x="0" width="11" y="500" height="5"/><rect x="0" width="11" y="505" height="2"/><rect x="0" width="11" y="516" height="4"/><rect x="0" width="11" y="524" height="7"/><rect x="0" width="11" y="531" height="6"/><rect x="0" width="11" y="541" height="8.6"/><rect x="0" width="11" y="549.6" height="6.4"/><rect x="0" width="11" y="556" height="8"/><rect x="0" width="11" y="564" height="13"/><rect x="0" width="11" y="585" height="8"/><rect x="0" width="11" y="668" height="10"/><rect x="0" width="11" y="678" height="9"/><rect x="0" width="11" y="687" height="3"/><rect x="0" width="11" y="690" height="8.7"/><rect x="0" width="11" y="705" height="21.7"/><rect x="0" width="11" y="726.7" height="7.8"/><rect x="0" width="11" y="735" height="57"/><rect x="0" width="11" y="804.5" height="7.5"/><rect x="0" width="11" y="812" height="10"/><rect x="0" width="11" y="822" height="13"/><rect x="0" width="11" y="839.5" height="8.5"/><rect x="0" width="11" y="1081.5" height="20.5"/>
</g>
<path class="ln" d="M0 640H11"/>
<line class="lg" x1="0" y1="31" x2="0" y2="1217"/>
<g class="tk">
<rect x="-1.5" width="3" y="38" height="8"/><rect x="-1.5" width="3" y="78" height="9.8"/><rect x="-1.5" width="3" y="190" height="11"/><rect x="-1.5" width="3" y="312" height="4"/><rect x="-1.5" width="3" y="357.8" height="27.7"/><rect x="-1.5" width="3" y="450" height="22"/><rect x="-1.5" width="3" y="548" height="81"/><rect x="-1.5" width="3" y="705" height="87"/><rect x="-1.5" width="3" y="795" height="87"/><rect x="-1.5" width="3" y="938.7" height="93.3"/><rect x="-1.5" width="3" y="1046" height="29"/><rect x="-1.5" width="3" y="1081.5" height="20.5"/><rect x="-1.5" width="3" y="1110" height="9.6"/>
<rect x="-10.5" width="10.5" y="224.8" height="1.3"/><rect x="0" width="11" y="505.5" height="1.3"/><rect x="0" width="11" y="536.5" height="1.3"/><rect x="0" width="11" y="689.5" height="1.3"/><rect x="-3" width="14" y="734.3" height="1.3"/><rect x="-10.5" width="10.5" y="1166.5" height="1.3"/><rect x="-10.5" width="10.5" y="1203.5" height="1.3"/>
</g>
<path class="ld" d="M-32 153L-26 156H-11M-32 175L-26 177H-11M-28 534L-22 531H-11M-28 540H-11"/>
<g>
<text x="-28" y="36.6">1</text><text x="-28" y="44.5">2</text><text x="-28" y="89.2">47</text><text x="-28" y="107.8">48</text><text x="-28" y="138">49</text><text x="-42" y="156.4">50</text><text x="-42" y="162">51</text><text x="-42" y="168">52</text><text x="-42" y="176">53</text><text x="-27" y="179">54</text><text x="-28" y="186.9">55</text><text x="-28" y="198.7">2</text><text x="-28" y="208.6">56</text><text x="-28" y="215">57</text><text x="-28" y="223.6">58</text><text x="-28" y="252">59</text><text x="-28" y="291.6">60</text><text x="-28" y="298.8">61</text><text x="-28" y="306.7">62</text><text x="-28" y="336">30</text><text x="-28" y="346">29</text><text x="-28" y="356">28</text><text x="-28" y="364.8">20</text><text x="-28" y="375.9">21</text><text x="-28" y="385.3">22</text><text x="-28" y="399.6">23</text><text x="-28" y="417.4">24</text><text x="-28" y="442">25</text><text x="-28" y="455">26</text><text x="-28" y="464.4">27</text><text x="-28" y="479.5">44</text><text x="-28" y="492">43</text><text x="-28" y="498">42</text><text x="-28" y="506.3">41</text><text x="-28" y="512">40</text><text x="-28" y="521">39</text><text x="-28" y="531">38</text><text x="-38" y="536.8">36</text><text x="-38" y="542.6">37</text><text x="-28" y="548">35</text><text x="-28" y="551.4">34</text><text x="-28" y="556.6">33</text><text x="-28" y="574">32</text><text x="-28" y="593">31</text><text x="-28" y="600">63</text><text x="-28" y="608.7">64</text><text x="-28" y="618">65</text><text x="-28" y="643">11</text><text x="-28" y="671">10</text><text x="-28" y="678">9</text><text x="-28" y="687.7">8</text><text x="-28" y="695.9">18</text><text x="-28" y="716">17</text><text x="-28" y="729.7">16</text><text x="-28" y="738">15</text><text x="-28" y="764.7">14</text><text x="-28" y="806">34</text><text x="-28" y="815">33</text><text x="-28" y="827.7">32</text><text x="-28" y="845">31</text><text x="-28" y="855">63</text><text x="-28" y="862.7">64</text><text x="-28" y="871.7">65</text><text x="-28" y="904">12</text><text x="-28" y="927">13</text><text x="-28" y="973.6">14</text><text x="-28" y="1006">15</text><text x="-28" y="1013.7">16</text><text x="-28" y="1026">17</text><text x="-28" y="1044">19</text><text x="-28" y="1053.7">20</text><text x="-28" y="1063">21</text><text x="-28" y="1072.8">22</text><text x="-28" y="1091.5">27</text><text x="-28" y="1103">45</text><text x="-28" y="1109.8">46</text><text x="-28" y="1134">3</text><text x="-28" y="1151.8">4</text><text x="-28" y="1168.5">5</text><text x="-28" y="1176">6</text><text x="-28" y="1184.8">7</text><text x="-28" y="1192">66</text><text x="-28" y="1197">67</text><text x="-28" y="1207">68</text><text x="-28" y="1215">69</text>
</g>
<g class="hl">
<rect class="bl" x="-31" y="38.4" width="52" height="8.3"/><rect class="bl" x="-32" y="190" width="53" height="11"/><rect class="gr" x="-31" y="357.8" width="52" height="28.9"/><rect class="br" x="-31" y="446" width="52" height="26.5"/><rect class="bk" x="-30" y="548" width="51" height="80"/><rect class="og" x="-30" y="629" width="51" height="163"/><rect class="bk" x="-29" y="795" width="50" height="87"/><rect class="og" x="-31" y="888" width="51" height="145"/><rect class="gr" x="-32" y="1045.7" width="52" height="30"/><rect class="br" x="-32" y="1080.7" width="53" height="15.3"/>
</g>
</g>

<g id="col-perennis" transform="translate(835,0)">
<g class="bx">
<rect x="-10.5" width="10.5" y="31" height="3"/><rect x="-10.5" width="10.5" y="34" height="5"/><rect x="-10.5" width="10.5" y="48" height="17"/><rect x="-10.5" width="10.5" y="65" height="18"/><rect x="-10.5" width="10.5" y="86" height="9"/><rect x="-10.5" width="10.5" y="95" height="20"/><rect x="-10.5" width="10.5" y="121" height="10"/><rect x="-10.5" width="10.5" y="177" height="9"/><rect x="-10.5" width="10.5" y="196" height="4"/><rect x="-10.5" width="10.5" y="200" height="5"/><rect x="-10.5" width="10.5" y="205" height="6"/><rect x="-10.5" width="10.5" y="217" height="54"/><rect x="-10.5" width="10.5" y="299" height="6"/><rect x="-10.5" width="10.5" y="353" height="64"/><rect x="-10.5" width="10.5" y="462" height="6"/><rect x="-10.5" width="10.5" y="468" height="6"/><rect x="-10.5" width="10.5" y="483" height="4"/><rect x="-10.5" width="10.5" y="487" height="32"/><rect x="-10.5" width="10.5" y="540" height="6"/><rect x="-10.5" width="10.5" y="546" height="6"/><rect x="-10.5" width="10.5" y="557" height="9"/><rect x="-10.5" width="10.5" y="566" height="9"/><rect x="-10.5" width="10.5" y="578" height="5"/><rect x="-10.5" width="10.5" y="583" height="8"/><rect x="-10.5" width="10.5" y="591" height="7"/><rect x="-10.5" width="10.5" y="598" height="5"/><rect x="-10.5" width="10.5" y="640" height="13"/><rect x="-10.5" width="10.5" y="653" height="8"/><rect x="-10.5" width="10.5" y="669" height="4"/><rect x="-10.5" width="10.5" y="695" height="4"/><rect x="-10.5" width="10.5" y="699" height="4"/><rect x="-10.5" width="10.5" y="710" height="17"/><rect x="-10.5" width="10.5" y="727" height="17"/><rect x="-10.5" width="10.5" y="762" height="8"/><rect x="-10.5" width="10.5" y="770" height="10"/><rect x="-10.5" width="10.5" y="780" height="10"/><rect x="-10.5" width="10.5" y="791" height="21"/><rect x="-10.5" width="10.5" y="812" height="17"/><rect x="-10.5" width="10.5" y="838" height="14"/><rect x="-10.5" width="10.5" y="852" height="10"/><rect x="-10.5" width="10.5" y="862" height="12"/><rect x="-10.5" width="10.5" y="950" height="12"/><rect x="-10.5" width="10.5" y="962" height="10"/><rect x="-10.5" width="10.5" y="972" height="8"/><rect x="-10.5" width="10.5" y="984" height="19"/><rect x="-10.5" width="10.5" y="1010" height="7"/><rect x="-10.5" width="10.5" y="1017" height="8"/>
<rect x="0" width="11" y="131" height="23"/><rect x="0" width="11" y="155" height="30"/><rect x="0" width="11" y="188" height="6"/><rect x="0" width="11" y="279" height="7"/><rect x="0" width="11" y="286" height="6"/><rect x="0" width="11" y="292" height="7"/><rect x="0" width="11" y="312" height="13"/><rect x="0" width="11" y="348" height="5"/><rect x="0" width="11" y="432" height="8"/><rect x="0" width="11" y="519" height="6"/><rect x="0" width="11" y="525" height="7"/><rect x="0" width="11" y="532" height="6"/><rect x="0" width="11" y="631" height="4"/><rect x="0" width="11" y="653" height="8"/><rect x="0" width="11" y="673" height="23"/><rect x="0" width="11" y="745" height="8"/><rect x="0" width="11" y="753" height="8"/><rect x="0" width="11" y="877" height="20"/><rect x="0" width="11" y="898" height="14"/><rect x="0" width="11" y="912" height="14"/><rect x="0" width="11" y="926" height="14"/><rect x="0" width="11" y="987" height="9"/><rect x="0" width="11" y="1012" height="2"/>
</g>
<path class="ln" d="M0 216H11M0 476.5H11"/>
<line class="ln" x1="0" y1="31" x2="0" y2="1026"/>
<g class="tk">
<rect x="-1.5" width="3" y="36" height="14"/><rect x="-10.5" width="10.5" y="84" height="1.8"/><rect x="-1.5" width="3" y="154" height="32"/><rect x="-1.5" width="3" y="440" height="23"/><rect x="-1.5" width="3" y="580" height="18"/><rect x="-1.5" width="3" y="652" height="12"/><rect x="-1.5" width="3" y="762" height="23"/><rect x="-1.5" width="3" y="983" height="23"/>
</g>
<path class="ld" d="M-31 185L-11 188M-31 190L-11 192M-31 195L-11 196M-31 200L-20 199M-31 205L-20 203"/>
<g>
<text x="-25" y="34">1</text><text x="-24" y="41">68</text><text x="-25" y="61">3</text><text x="-25" y="79">4</text><text x="-25" y="88">15</text><text x="-25" y="95">16</text><text x="-25" y="109">17</text><text x="-25" y="131">18</text><text x="-25" y="148">13</text><text x="-25" y="183">35</text><text class="sm" x="-38" y="186">36</text><text class="sm" x="-38" y="191">41</text><text class="sm" x="-38" y="196">39</text><text class="sm" x="-38" y="201">37</text><text class="sm" x="-38" y="206">40</text><text x="-25" y="202">51</text><text x="-25" y="209">52</text><text x="-25" y="215">53</text><text x="-25" y="221">11</text><text x="-25" y="246">59</text><text x="-25" y="285">30</text><text x="-25" y="292">66</text><text x="-25" y="299">65</text><text x="-25" y="306">8</text><text x="-25" y="323">9</text><text x="-25" y="354">67</text><text x="-25" y="387">14</text><text x="-25" y="438">50</text><text x="-25" y="466">60</text><text x="-25" y="474">61</text><text x="-25" y="480">34</text><text x="-25" y="488">54</text><text x="-25" y="504">49</text><text x="-25" y="524">58</text><text x="-25" y="531">57</text><text x="-25" y="538">56</text><text x="-25" y="545">42</text><text x="-25" y="552">43</text><text x="-25" y="563">63</text><text x="-25" y="572">29</text><text x="-25" y="580">19</text><text x="-25" y="588">20</text><text x="-25" y="598">21</text><text x="-25" y="606">62</text><text x="-25" y="635">10</text><text x="-25" y="648">55</text><text x="-25" y="659">68</text><text x="-25" y="674">44</text><text x="-25" y="686">27</text><text x="-25" y="696">45</text><text x="-25" y="702">46</text><text x="-25" y="714">47</text><text x="-25" y="732">48</text><text x="-25" y="751">64</text><text x="-25" y="761">28</text><text x="-25" y="770">20</text><text x="-25" y="780">21</text><text x="-25" y="790">22</text><text x="-25" y="806">23</text><text x="-25" y="824">24</text><text x="-25" y="849">25</text><text x="-25" y="861">26</text><text x="-25" y="871">38</text><text x="-25" y="890">32</text><text x="-25" y="907">31</text><text x="-25" y="920">12</text><text x="-25" y="937">33</text><text x="-25" y="958">5</text><text x="-25" y="969">6</text><text x="-25" y="979">7</text><text x="-25" y="985">2</text><text x="-25" y="994">35</text><text x="-25" y="1015">39</text><text x="-25" y="1023">69</text>
</g>
<g class="hl">
<rect class="bk" x="-30" y="34" width="50" height="49"/><rect class="bk" x="-26" y="154" width="47" height="32"/><rect class="gr" x="-30" y="578" width="51" height="22"/><rect class="bk" x="-32" y="650" width="52" height="15"/><rect class="gr" x="-30" y="762" width="51" height="30"/><rect class="bk" x="-30" y="983" width="52" height="23"/>
</g>
</g>

<g id="col-luxurians" transform="translate(950,0)">
<g class="bx">
<rect x="-10.5" width="10.5" y="34" height="3"/><rect x="-10.5" width="10.5" y="37" height="3"/><rect x="-10.5" width="10.5" y="50" height="6"/><rect x="-10.5" width="10.5" y="74" height="5"/><rect x="-10.5" width="10.5" y="79" height="5"/><rect x="-10.5" width="10.5" y="93" height="15"/><rect x="-10.5" width="10.5" y="108" height="16"/><rect x="-10.5" width="10.5" y="144" height="9"/><rect x="-10.5" width="10.5" y="153" height="9"/><rect x="-10.5" width="10.5" y="162" height="9"/><rect x="-10.5" width="10.5" y="174" height="21"/><rect x="-10.5" width="10.5" y="197" height="13"/><rect x="-10.5" width="10.5" y="259" height="5"/><rect x="-10.5" width="10.5" y="480" height="2"/><rect x="-10.5" width="10.5" y="545" height="2"/><rect x="-10.5" width="10.5" y="571" height="11"/><rect x="-10.5" width="10.5" y="589" height="2"/><rect x="-10.5" width="10.5" y="630" height="17"/><rect x="-10.5" width="10.5" y="647" height="19"/><rect x="-10.5" width="10.5" y="666" height="16"/><rect x="-10.5" width="10.5" y="740" height="60"/><rect x="-10.5" width="10.5" y="857" height="9"/><rect x="-10.5" width="10.5" y="870" height="15"/><rect x="-10.5" width="10.5" y="955" height="7"/><rect x="-10.5" width="10.5" y="962" height="7"/>
<rect x="0" width="11" y="57" height="21"/><rect x="0" width="11" y="126" height="9"/><rect x="0" width="11" y="135" height="9"/><rect x="0" width="11" y="197" height="13"/><rect x="0" width="11" y="236" height="7"/><rect x="0" width="11" y="243" height="7"/><rect x="0" width="11" y="250" height="7"/><rect x="0" width="11" y="271" height="12"/><rect x="0" width="11" y="303" height="5"/><rect x="0" width="11" y="326" height="53"/><rect x="0" width="11" y="382" height="7"/><rect x="0" width="11" y="389" height="7"/><rect x="0" width="11" y="396" height="6"/><rect x="0" width="11" y="404" height="7"/><rect x="0" width="11" y="411" height="7"/><rect x="0" width="11" y="418" height="6"/><rect x="0" width="11" y="427" height="14"/><rect x="0" width="11" y="441" height="21"/><rect x="0" width="11" y="464" height="7"/><rect x="0" width="11" y="471" height="7"/><rect x="0" width="11" y="486" height="6"/><rect x="0" width="11" y="492" height="7"/><rect x="0" width="11" y="499" height="7"/><rect x="0" width="11" y="508" height="22"/><rect x="0" width="11" y="550" height="8"/><rect x="0" width="11" y="558" height="9"/><rect x="0" width="11" y="593" height="7"/><rect x="0" width="11" y="600" height="11"/><rect x="0" width="11" y="611" height="9"/><rect x="0" width="11" y="689" height="8"/><rect x="0" width="11" y="705" height="17"/><rect x="0" width="11" y="722" height="11"/><rect x="0" width="11" y="733" height="7"/><rect x="0" width="11" y="815" height="10"/><rect x="0" width="11" y="838" height="5"/><rect x="0" width="11" y="843" height="7"/><rect x="0" width="11" y="850" height="7"/><rect x="0" width="11" y="893" height="7"/><rect x="0" width="11" y="903" height="10"/><rect x="0" width="11" y="913" height="12"/><rect x="0" width="11" y="935" height="17"/>
</g>
<line class="ln" x1="0" y1="31" x2="0" y2="970"/>
<g class="tk">
<rect x="-1.5" width="3" y="144" height="9"/><rect x="-1.5" width="3" y="195" height="17"/><rect x="-1.5" width="3" y="229" height="2"/><rect x="-1.5" width="3" y="418" height="2"/><rect x="-1.5" width="3" y="825" height="12"/><rect x="-1.5" width="3" y="935" height="18"/>
</g>
<path class="ld" d="M-33 385L-27 380H0M-31 409L-26 406H-11M-31 386L-11 385M-31 391L-11 391M-31 396L-11 397"/>
<g>
<text x="-26" y="36">1</text><text x="-26" y="42">68</text><text x="-26" y="56">44</text><text x="-26" y="67">27</text><text x="-26" y="78">45</text><text x="-26" y="84">46</text><text x="-26" y="98">47</text><text x="-26" y="113">48</text><text x="-26" y="132">64</text><text x="-26" y="143">28</text><text x="-26" y="152">20</text><text x="-26" y="161">21</text><text x="-26" y="171">22</text><text x="-26" y="187">23</text><text x="-26" y="205">24</text><text x="-26" y="243">30</text><text x="-26" y="250">66</text><text x="-26" y="256">65</text><text x="-26" y="265">8</text><text x="-26" y="280">9</text><text x="-26" y="305">41</text><text x="-26" y="313">40</text><text x="-26" y="354">59</text><text x="-24" y="382">11</text><text class="sm" x="-39" y="388">53</text><text class="sm" x="-39" y="393">52</text><text class="sm" x="-39" y="398">51</text><text class="sm" x="-39" y="404">37</text><text class="sm" x="-39" y="410">36</text><text x="-26" y="412">35</text><text x="-26" y="419">42</text><text x="-26" y="426">15</text><text x="-26" y="437">4</text><text x="-26" y="455">3</text><text x="-26" y="470">61</text><text x="-26" y="477">60</text><text x="-26" y="484">62</text><text x="-26" y="492">43</text><text x="-26" y="499">57</text><text x="-26" y="506">56</text><text x="-26" y="521">49</text><text x="-26" y="541">54</text><text x="-26" y="549">34</text><text x="-26" y="557">58</text><text x="-26" y="566">10</text><text x="-26" y="579">55</text><text x="-26" y="593">2</text><text x="-26" y="600">7</text><text x="-26" y="609">6</text><text x="-26" y="621">5</text><text x="-26" y="641">33</text><text x="-26" y="660">12</text><text x="-26" y="678">13</text><text x="-26" y="697">18</text><text x="-26" y="718">17</text><text x="-26" y="731">16</text><text x="-26" y="741">67</text><text x="-26" y="774">14</text><text x="-26" y="823">50</text><text x="-26" y="833">20</text><text x="-26" y="842">19</text><text x="-26" y="849">29</text><text x="-26" y="856">63</text><text x="-26" y="866">31</text><text x="-26" y="883">32</text><text x="-26" y="901">38</text><text x="-26" y="911">26</text><text x="-26" y="922">25</text><text x="-26" y="947">24</text><text x="-26" y="962">39</text><text x="-26" y="970">69</text>
</g>
<g class="hl">
<rect class="gr" x="-30" y="144" width="50" height="30"/><rect class="bk" x="-30" y="195" width="50" height="17"/><rect class="gr" x="-30" y="825" width="50" height="13"/><rect class="bk" x="-29" y="903" width="50" height="51"/>
</g>
</g>
</svg>
